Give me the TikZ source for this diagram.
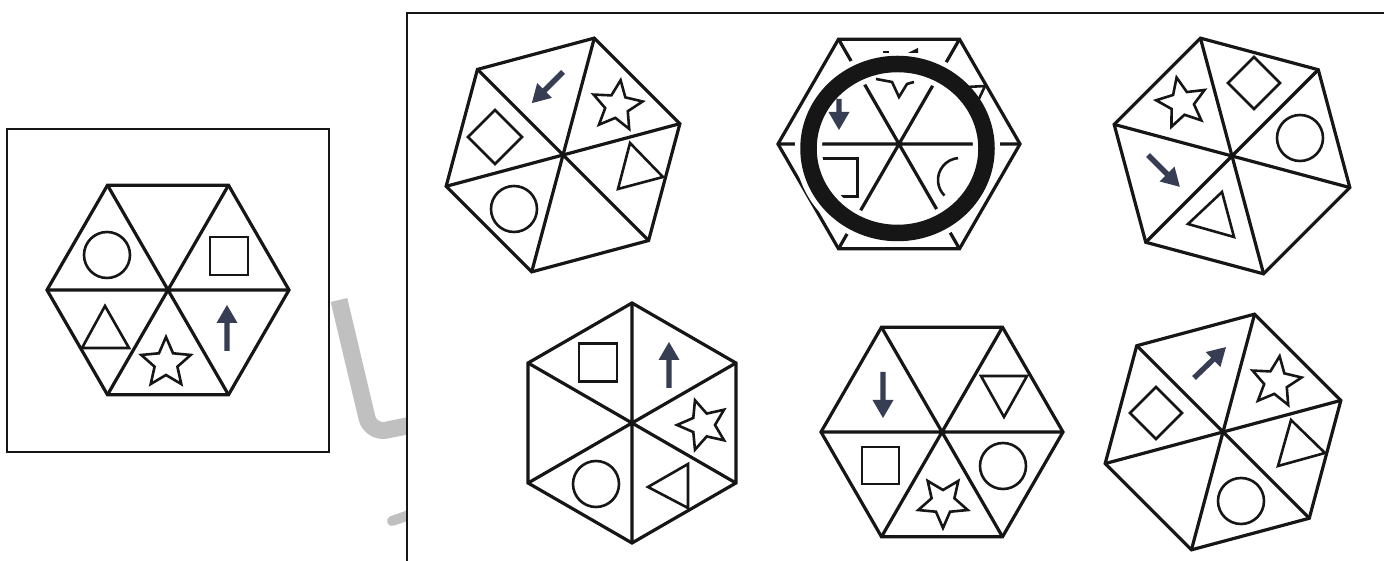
\documentclass[tikz,border=0pt]{standalone}
\definecolor{arrowcol}{RGB}{55,61,82}
\definecolor{wm}{RGB}{192,192,192}
\definecolor{ink}{RGB}{22,22,22}
\tikzset{
  hexline/.style={draw=ink, line width=3.2pt, line join=miter},
  shapeline/.style={draw=ink, line width=2.6pt, line join=miter},
  boxline/.style={draw=ink, line width=2.7pt},
}
\newcommand\hexdraw[4]{%
  \begin{scope}[shift={(#1,561-#2)}, rotate=#3]
    \draw[hexline] (0:#4)--(60:#4)--(120:#4)--(180:#4)--(240:#4)--(300:#4)--cycle;
    \draw[hexline] (0:#4)--(180:#4) (60:#4)--(240:#4) (120:#4)--(300:#4);
  \end{scope}}
\newcommand\circsym[2]{\draw[shapeline] (#1,#2) circle (23);}
\newcommand\sqsym[3]{\draw[shapeline] ({#1-#3/2},{#2-#3/2}) rectangle ({#1+#3/2},{#2+#3/2});}
\newcommand\diasym[3]{\draw[shapeline] (#1,{#2+#3}) -- ({#1+#3},#2) -- (#1,{#2-#3}) -- ({#1-#3},#2) -- cycle;}
\newcommand\starsym[3]{\draw[shapeline, shift={(#1,#2)}, rotate=#3]
  (90:26)--(126:12)--(162:26)--(198:12)--(234:26)--(270:12)--(306:26)--(342:12)--(18:26)--(54:12)--cycle;}
\newcommand\trisym[3]{\draw[shapeline] #1 -- #2 -- #3 -- cycle;}
\newcommand\arrsym[4]{\fill[arrowcol, shift={(#1,#2)}, rotate=#3]
  (0,-2.7) -- ({#4-18},-2.7) -- ({#4-18},-10.5) -- (#4,0) -- ({#4-18},10.5) -- ({#4-18},2.7) -- (0,2.7) -- cycle;}
\begin{document}
\begin{tikzpicture}[x=1pt,y=1pt]
\useasboundingbox (0,0) rectangle (1384,561);
\fill[white] (0,0) rectangle (1384,561);

% watermark fragments
\draw[wm, line width=17pt, rounded corners=16pt] (339,261) -- (370.6,127.7) -- (420,137.6);
\draw[wm, line width=10pt, line cap=round] (392,40) -- (415,48);

% left frame
\draw[boxline] (7,109) rectangle (329,432);

% right frame
\fill[white] (407,-10) rectangle (1400,548);
\draw[boxline] (407,-10) -- (407,548) -- (1400,548);

% ---------- hex 1 (reference) ----------
\hexdraw{168}{290}{0}{121}
\begin{scope}[shift={(168,561-290)}]
  \circsym{-61}{35}
  \sqsym{61}{34}{38}
  \trisym{(-63,-16)}{(-86,-58)}{(-39,-58)}
  \starsym{-2}{-73}{0}
  \arrsym{59}{-61}{90}{46}
\end{scope}

% ---------- hex 2 ----------
\hexdraw{563}{155}{15}{121}
\begin{scope}[shift={(563,561-155)}]
  \arrsym{0}{83}{225}{44}
  \starsym{54}{49}{-8}
  \diasym{-68}{18}{27}
  \circsym{-49}{-54}
  \trisym{(67,12)}{(100,-22)}{(55,-34)}
\end{scope}

% ---------- hex 3 (with ring) ----------
\hexdraw{899}{144}{0}{121}
\begin{scope}[shift={(899,561-144)}]
  \sqsym{-60.5}{-33.5}{38}
  \draw[white, line width=27pt] (-1.5,-4.5) circle [x radius=89, y radius=84.5];
  \draw[ink, line width=16.5pt] (-1.5,-4.5) circle [x radius=89, y radius=84.5];
  \draw[ink, line width=2pt] (-16,92) -- (-10,92);
  \fill[ink] (9,91) -- (19,91) -- (19,96) -- cycle;
  \draw[shapeline] (-23,65) -- (-7,62) -- (0,47) -- (8,60) -- (15,62);
  \draw[shapeline] (68,57) -- (86,58) -- (78,41);
  \draw[shapeline] (61,-36) ++(95:22) arc[start angle=95, end angle=225, radius=22];
  \arrsym{-60}{45}{-90}{31}
\end{scope}

% ---------- hex 4 ----------
\hexdraw{1232}{156}{-15}{122}
\begin{scope}[shift={(1232,561-156)}]
  \starsym{-50}{53}{12}
  \diasym{22}{73}{26}
  \circsym{68}{18}
  \arrsym{-84}{1}{-45}{45}
  \trisym{(-10,-36)}{(2,-81)}{(-44,-68)}
\end{scope}

% ---------- hex 5 ----------
\hexdraw{632}{423}{30}{120}
\begin{scope}[shift={(632,561-423)}]
  \sqsym{-34}{60.5}{38}
  \arrsym{37}{35}{90}{46}
  \starsym{71}{-2}{90}
  \trisym{(16,-64)}{(56,-41)}{(56,-85)}
  \circsym{-36}{-61}
\end{scope}

% ---------- hex 6 ----------
\hexdraw{942}{432}{0}{121}
\begin{scope}[shift={(942,561-432)}]
  \arrsym{-59}{60}{-90}{46}
  \trisym{(39,56)}{(85,56)}{(62,15)}
  \sqsym{-61.5}{-33.5}{37}
  \starsym{1}{-70}{180}
  \circsym{61}{-34}
\end{scope}

% ---------- hex 7 ----------
\hexdraw{1223}{432}{15}{122}
\begin{scope}[shift={(1223,561-432)}]
  \arrsym{-29}{54}{44}{44.5}
  \starsym{53}{50}{-8}
  \diasym{-67}{19}{26}
  \trisym{(68,12)}{(102,-21)}{(55,-34)}
  \circsym{18}{-69}
\end{scope}
\end{tikzpicture}
\end{document}
